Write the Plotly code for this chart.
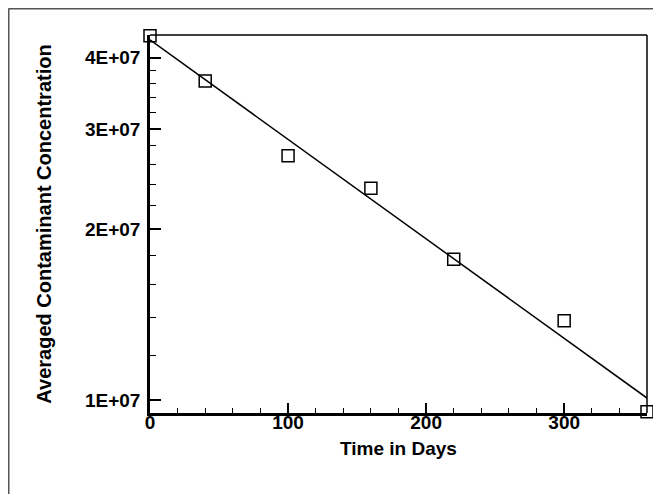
import plotly.graph_objects as go

days = [0, 40, 100, 160, 220, 300, 360]
concentration = [4.37e7, 3.64e7, 2.69e7, 2.36e7, 1.77e7, 1.38e7, 0.955e7]
fit_days = [0, 360]
fit_concentration = [4.30e7, 1.01e7]

y_tickvals = [1e7, 2e7, 3e7, 4e7]
y_ticktext = ["1E+07", "2E+07", "3E+07", "4E+07"]
y_minor = [1.2e7, 1.4e7, 1.6e7, 1.8e7, 2.2e7, 2.4e7, 2.6e7, 2.8e7, 3.2e7, 3.4e7, 3.6e7, 3.8e7]
x_tickvals = [0, 100, 200, 300]

font_family = "Liberation Sans, Arial, sans-serif"

fig = go.Figure()
fig.add_trace(go.Scatter(
    x=fit_days, y=fit_concentration, mode="lines",
    line=dict(color="black", width=1.5), showlegend=False, cliponaxis=False,
))
fig.add_trace(go.Scatter(
    x=days, y=concentration, mode="markers",
    marker=dict(symbol="square-open", size=12, color="black", line=dict(width=1.5, color="black")),
    showlegend=False, cliponaxis=False,
))

fig.update_layout(
    width=653, height=486,
    margin=dict(l=142, r=14, t=27, b=81),
    paper_bgcolor="white", plot_bgcolor="white",
    font=dict(family=font_family, color="black", size=18),
    xaxis=dict(
        range=[0, 360], tickmode="array", tickvals=x_tickvals,
        ticks="inside", ticklen=10, tickwidth=2, tickcolor="black",
        showline=True, linewidth=2.5, linecolor="black", mirror=False,
        showgrid=False, zeroline=False,
        tickfont=dict(size=19, weight="bold"), ticklabelstandoff=-10,
        minor=dict(dtick=20, ticks="inside", ticklen=5, tickwidth=1, tickcolor="black", showgrid=False),
        title=dict(text="Time in Days", font=dict(size=19, weight="bold"), standoff=11),
    ),
    yaxis=dict(
        type="log", range=[6.978, 7.642],
        tickmode="array", tickvals=y_tickvals, ticktext=y_ticktext,
        ticks="inside", ticklen=11, tickwidth=2, tickcolor="black",
        showline=True, linewidth=2.5, linecolor="black", mirror=False,
        showgrid=False, zeroline=False,
        tickfont=dict(size=19, weight="bold"), ticklabelstandoff=3,
        minor=dict(tickmode="array", tickvals=y_minor, ticks="inside", ticklen=6, tickwidth=1, tickcolor="black", showgrid=False),
        title=dict(text="Averaged Contaminant Concentration", font=dict(size=20, weight="bold"), standoff=28),
    ),
    shapes=[
        dict(type="line", xref="paper", yref="paper", x0=0, x1=1, y0=1, y1=1,
             line=dict(color="black", width=1.5)),
        dict(type="line", xref="paper", yref="paper", x0=1, x1=1, y0=0, y1=1,
             line=dict(color="black", width=1.5)),
        dict(type="line", xref="paper", yref="paper", x0=-0.2847, x1=1.0161, y0=1.0701, y1=1.0701,
             line=dict(color="#555555", width=2)),
        dict(type="line", xref="paper", yref="paper", x0=-0.2847, x1=-0.2847, y0=1.0701, y1=-0.2143,
             line=dict(color="#555555", width=2)),
    ],
)

fig.write_html("out.html")
